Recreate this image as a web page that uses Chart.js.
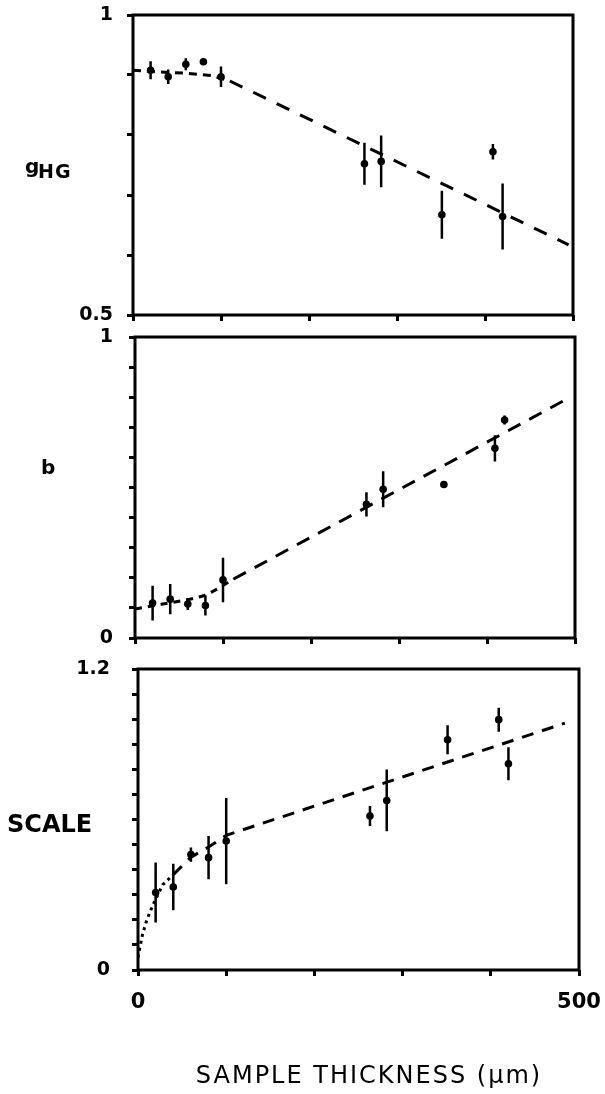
<!DOCTYPE html>
<html>
<head>
<meta charset="utf-8">
<script src="https://cdn.jsdelivr.net/npm/chart.js@4.4.1/dist/chart.umd.min.js"></script>
<style>
  body { margin: 0; background: #fff; width: 605px; height: 1094px; position: relative; overflow: hidden; }
  canvas { position: absolute; left: 0; }
</style>
</head>
<body>
<canvas id="gChart" width="605" height="330" style="top:0px"></canvas>
<canvas id="bChart" width="605" height="325" style="top:325px"></canvas>
<canvas id="scaleChart" width="605" height="444" style="top:650px"></canvas>
<script>
// sample thickness (um) of each measured sample
const thickness = [20, 40, 60, 80, 100, 263, 282, 351, 409, 420];

// g_HG with error bars
const gHG    = [0.908, 0.897, 0.918, 0.922, 0.897, 0.752, 0.756, 0.667, 0.772, 0.664];
const gHGErr = [0.015, 0.012, 0.010, 0.000, 0.017, 0.035, 0.043, 0.040, 0.013, 0.055];

// b with error bars
const bVal = [0.116, 0.129, 0.113, 0.108, 0.193, 0.444, 0.494, 0.510, 0.630, 0.724];
const bErr = [0.058, 0.050, 0.020, 0.033, 0.074, 0.040, 0.060, 0.012, 0.044, 0.015];

// SCALE with error bars
const scaleVal = [0.309, 0.331, 0.460, 0.448, 0.514, 0.614, 0.676, 0.918, 0.998, 0.822];
const scaleErr = [0.120, 0.093, 0.028, 0.086, 0.172, 0.040, 0.123, 0.058, 0.048, 0.066];

// dashed fit curves
const gFitX = [0, 30, 60, 90, 110, 130, 495];
const gFitY = [0.908, 0.905, 0.903, 0.899, 0.890, 0.876, 0.617];
const bFitX = [0, 30, 60, 80, 95, 112, 487];
const bFitY = [0.096, 0.112, 0.127, 0.142, 0.165, 0.196, 0.788];
const scaleFitX = [0, 5, 10, 17, 28, 40, 60, 80, 100, 484];
const scaleFitY = [0.05, 0.14, 0.20, 0.26, 0.34, 0.38, 0.45, 0.49, 0.537, 0.984];

// tick labels that are printed
const gTicks = ['0.5', '1'];
const bTicks = ['0', '1'];
const scaleTicks = ['0', '1.2'];
const xTicks = ['0', '500'];

const pts = (xs, ys) => xs.map((x, i) => ({ x: x, y: ys[i] }));
function errBars(xs, ys, es) {
  const out = [];
  xs.forEach((x, i) => {
    out.push({ x: x, y: ys[i] - es[i] }, { x: x, y: ys[i] + es[i] }, { x: x, y: null });
  });
  return out;
}
const pickLabel = list => v => list.find(t => Math.abs(parseFloat(t) - v) < 1e-6) ?? '';

const framePlugin = {
  id: 'frame',
  afterDraw(chart) {
    const { ctx, chartArea: a } = chart;
    ctx.save();
    ctx.lineWidth = 3;
    ctx.strokeStyle = '#000';
    ctx.strokeRect(a.left, a.top, a.right - a.left, a.bottom - a.top);
    ctx.restore();
  }
};

const textPlugin = {
  id: 'sideText',
  afterDraw(chart, args, opts) {
    const ctx = chart.ctx;
    (opts.items || []).forEach(it => {
      ctx.save();
      ctx.font = it.font;
      ctx.fillStyle = '#000';
      ctx.textAlign = it.align || 'left';
      ctx.textBaseline = 'alphabetic';
      if ('letterSpacing' in ctx) ctx.letterSpacing = (it.spacing || 0) + 'px';
      ctx.fillText(it.text, it.x, it.y);
      ctx.restore();
    });
  }
};

const tickFont = { family: 'DejaVu Sans', size: 19, weight: 'bold' };

function makePanel(id, p) {
  const tickGrid = { drawOnChartArea: false, tickLength: 6, tickWidth: 3, color: '#000' };
  new Chart(document.getElementById(id), {
    type: 'scatter',
    data: {
      datasets: [
        {
          data: pts(p.fitX, p.fitY),
          showLine: true,
          borderColor: '#000',
          borderWidth: 3,
          borderDash: p.dash,
          pointRadius: 0,
          segment: {
            borderDash: c => (c.p0.parsed.x < p.shortUntil ? p.shortDash : undefined)
          }
        },
        {
          data: errBars(thickness, p.y, p.err),
          showLine: true,
          spanGaps: false,
          borderColor: '#000',
          borderWidth: 2.5,
          pointRadius: 0
        },
        {
          data: pts(thickness, p.y),
          pointRadius: 3.8,
          pointBackgroundColor: '#000',
          pointBorderWidth: 0
        }
      ]
    },
    options: {
      responsive: false,
      animation: false,
      layout: { padding: { top: p.top, right: p.right, bottom: 0, left: 0 } },
      plugins: {
        legend: { display: false },
        tooltip: { enabled: false },
        sideText: { items: p.labels }
      },
      scales: {
        x: {
          type: 'linear',
          min: 0,
          max: 500,
          afterFit: s => {
            s.height = p.xHeight;
            s.paddingLeft = 0;
            s.paddingRight = 0;
          },
          border: { display: false },
          grid: tickGrid,
          ticks: {
            stepSize: 100,
            autoSkip: false,
            maxRotation: 0,
            padding: 14,
            color: '#000',
            font: { family: 'DejaVu Sans', size: 21, weight: 'bold' },
            callback: p.xLabels ? pickLabel(xTicks) : () => ''
          }
        },
        y: {
          min: p.yMin,
          max: p.yMax,
          afterFit: s => {
            s.width = p.yWidth;
            s.paddingTop = 0;
            s.paddingBottom = 0;
          },
          border: { display: false },
          grid: tickGrid,
          ticks: {
            stepSize: 0.1,
            autoSkip: false,
            padding: p.yPad,
            color: '#000',
            font: tickFont,
            callback: pickLabel(p.yTicks)
          }
        }
      }
    },
    plugins: [framePlugin, textPlugin]
  });
}

makePanel('gChart', {
  y: gHG, err: gHGErr, fitX: gFitX, fitY: gFitY,
  dash: [14, 12], shortDash: [8, 6], shortUntil: 100,
  yMin: 0.5, yMax: 1, yTicks: gTicks, yPad: 14, yWidth: 133,
  top: 15, right: 32, xHeight: 15, xLabels: false,
  labels: [
    { text: 'g', x: 25, y: 173, font: 'bold 20px "DejaVu Sans"' },
    { text: 'HG', x: 38, y: 178, font: 'bold 19px "DejaVu Sans"', spacing: 1 }
  ]
});

makePanel('bChart', {
  y: bVal, err: bErr, fitX: bFitX, fitY: bFitY,
  dash: [14, 10], shortDash: [7, 6], shortUntil: 100,
  yMin: 0, yMax: 1, yTicks: bTicks, yPad: 16, yWidth: 135,
  top: 12, right: 30, xHeight: 12, xLabels: false,
  labels: [
    { text: 'b', x: 41, y: 149, font: 'bold 20px "DejaVu Sans"' }
  ]
});

makePanel('scaleChart', {
  y: scaleVal, err: scaleErr, fitX: scaleFitX, fitY: scaleFitY,
  dash: [12, 9], shortDash: [3, 4], shortUntil: 40,
  yMin: 0, yMax: 1.2, yTicks: scaleTicks, yPad: 22, yWidth: 138,
  top: 19, right: 26, xHeight: 124, xLabels: true,
  labels: [
    { text: 'SCALE', x: 7, y: 182, font: 'bold 24px "DejaVu Sans"' },
    { text: 'SAMPLE THICKNESS (µm)', x: 369, y: 433, font: '24px "DejaVu Sans"', align: 'center', spacing: 2 }
  ]
});
</script>
</body>
</html>
